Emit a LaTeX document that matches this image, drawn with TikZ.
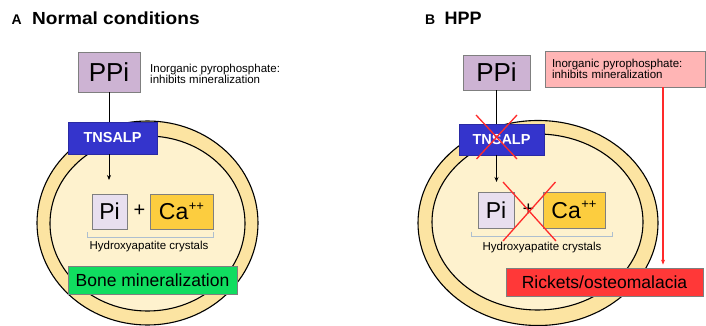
\documentclass[tikz,border=0pt]{standalone}
\usepackage{fontspec}
\setmainfont{Liberation Sans}
\usetikzlibrary{arrows.meta}
\definecolor{ppicol}{HTML}{CDB3D3}
\definecolor{picol}{HTML}{E8DFEF}
\definecolor{cacol}{HTML}{FCCD3F}
\definecolor{ringcol}{HTML}{FCE4A2}
\definecolor{innercol}{HTML}{FEF2CE}
\definecolor{tncol}{HTML}{3434CC}
\definecolor{greencol}{HTML}{10DD60}
\definecolor{pinkcol}{HTML}{FFB5B5}
\definecolor{redbox}{HTML}{FF3838}
\definecolor{redline}{HTML}{FF2A2A}
\definecolor{brackcol}{HTML}{AEBFCF}
\definecolor{boxborder}{HTML}{7F7F7F}
\newcommand{\fsz}[1]{\fontsize{#1}{#1}\selectfont}
\newcommand{\calcium}{Ca\kern0.5pt\raisebox{0.42em}{\fsz{13}++}}
\begin{document}
\begin{tikzpicture}[x=1pt,y=-1pt,
  boxstyle/.style={draw=boxborder, line width=0.8pt, inner sep=0pt, text=black},
  tnstyle/.style={fill=tncol, draw=tncol!80!black, line width=0.6pt, inner sep=0pt,
     text=white, font=\bfseries\fsz{14.5}},
  lbl/.style={inner sep=0pt, text=black},
  ringstyle/.style={fill=ringcol, draw=black, line width=1.1pt},
  innerstyle/.style={fill=innercol, draw=black, line width=1.1pt},
  conn/.style={draw=black, line width=0.8pt},
  tip/.style={-{Stealth[length=5pt,width=4pt]}},
  cross/.style={draw=redline, line width=1.3pt},
  brack/.style={draw=brackcol, line width=0.9pt}]
\useasboundingbox (0,0) rectangle (706,326);
\fill[white] (0,0) rectangle (706,326);

% ---------------- Panel A ----------------
\node[lbl, anchor=base west, font=\bfseries\fsz{14}] (labA) at (11.5,25) {A};
\node[lbl, anchor=base west, font=\bfseries\fsz{17.5}] (titA) at (32,25) {\scalebox{1.09}[1]{Normal conditions}};

\draw[ringstyle] (147.5,223) ellipse [x radius=110.5pt, y radius=102pt];
\draw[innerstyle] (147.5,223.5) ellipse [x radius=97.5pt, y radius=87.5pt];

\node[boxstyle, fill=ppicol, minimum width=62pt, minimum height=40pt, font=\fsz{26}] (ppiA) at (109,72) {PPi};
\node[lbl, anchor=west, align=left, font=\fsz{11.5}] (infoA) at (150,73.5) {Inorganic pyrophosphate:\\[-0.6pt]inhibits mineralization};
\node[tnstyle, minimum width=89pt, minimum height=32pt] (tnA) at (112.5,138) {TNSALP};
\draw[conn] (ppiA.south) -- (ppiA.south |- tnA.north);
\coordinate (arrA) at (109,180);
\draw[conn, tip] (ppiA.south |- tnA.south) -- (arrA);

\node[boxstyle, fill=picol, minimum width=35pt, minimum height=35pt, font=\fsz{23}] (piA) at (109.5,211.5) {Pi};
\node[lbl, font=\fsz{20}] (plusA) at (139.5,211) {+};
\node[boxstyle, fill=cacol, minimum width=63pt, minimum height=35pt, font=\fsz{23}] (caA) at (181.5,211.5) {\calcium};
\coordinate (bAl) at (87,232);
\coordinate (bAr) at (213,232);
\draw[brack] (bAl) -- ++(0,5) -| (bAr);
\node[lbl, font=\fsz{11.5}] (hydA) at (149,247) {Hydroxyapatite crystals};
\node[boxstyle, fill=greencol, minimum width=169pt, minimum height=28pt, font=\fsz{17.5}] (boneA) at (152.5,280) {Bone mineralization};

% ---------------- Panel B ----------------
\node[lbl, anchor=base west, font=\bfseries\fsz{14}] (labB) at (425,25) {B};
\node[lbl, anchor=base west, font=\bfseries\fsz{18}] (titB) at (444.5,25) {HPP};

\draw[ringstyle] (538,223) ellipse [x radius=120pt, y radius=102.5pt];
\draw[innerstyle] (537.5,222) ellipse [x radius=105.5pt, y radius=88pt];

\node[boxstyle, fill=ppicol, minimum width=67pt, minimum height=35pt, font=\fsz{26}] (ppiB) at (496.5,72.5) {PPi};
\node[boxstyle, fill=pinkcol, minimum width=160pt, minimum height=36pt, text width=146pt, inner xsep=7pt, align=left, font=\fsz{11.5}] (infoB) at (625,69) {Inorganic pyrophosphate:\\[-0.6pt]inhibits mineralization};
\node[tnstyle, minimum width=85pt, minimum height=31pt] (tnB) at (501.5,139.5) {TNSALP};
\draw[conn] (ppiB.south) -- (ppiB.south |- tnB.north);
\coordinate (arrB) at (496.5,182);
\draw[conn, tip] (ppiB.south |- tnB.south) -- (arrB);
\coordinate (xa1) at (476,115);
\coordinate (xa2) at (517,159);
\coordinate (xa3) at (517,115);
\coordinate (xa4) at (476.5,159);
\draw[cross] (xa1) -- (xa2);
\draw[cross] (xa3) -- (xa4);

\node[boxstyle, fill=picol, minimum width=36pt, minimum height=36pt, font=\fsz{23}] (piB) at (496,210) {Pi};
\node[lbl, font=\fsz{20}] (plusB) at (528.5,210) {+};
\node[boxstyle, fill=cacol, minimum width=62pt, minimum height=36pt, font=\fsz{23}] (caB) at (574,210) {\calcium};
\coordinate (bBl) at (471,231.5);
\coordinate (bBr) at (612,231.5);
\draw[brack] (bBl) -- ++(0,5) -| (bBr);
\node[lbl, font=\fsz{11.5}] (hydB) at (542,248) {Hydroxyapatite crystals};
\coordinate (xb1) at (503,182);
\coordinate (xb2) at (556,241);
\coordinate (xb3) at (555.5,182);
\coordinate (xb4) at (503,241);
\draw[cross] (xb1) -- (xb2);
\draw[cross] (xb3) -- (xb4);

\node[boxstyle, fill=redbox, minimum width=197pt, minimum height=28pt, font=\fsz{17.5}] (rickB) at (604.5,282) {Rickets/osteomalacia};
\coordinate (rlTop) at (663,0);
\draw[draw=redline, line width=1.1pt, tip] (rlTop |- infoB.south) -- ([yshift=3pt]rlTop |- rickB.north);
\end{tikzpicture}
\end{document}
